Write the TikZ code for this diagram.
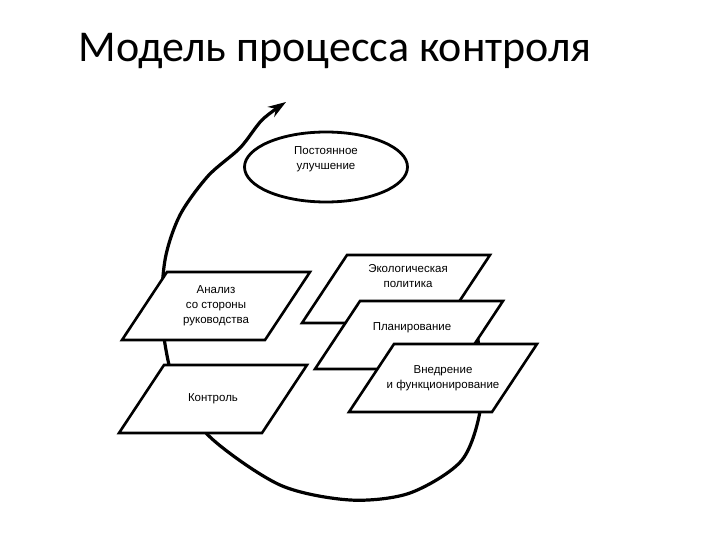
\documentclass[tikz,border=0pt]{standalone}
\usepackage{fontspec}
\newfontfamily\titlefont{Carlito}
\newfontfamily\stagefont{Liberation Sans}
\usetikzlibrary{arrows.meta,shapes.geometric,backgrounds}

\begin{document}
\begin{tikzpicture}[x=1pt,y=-1pt,
    stage/.style={rectangle, minimum width=194pt, minimum height=74pt, inner sep=0pt,
        align=center, font=\stagefont\fontsize{11.5}{15}\selectfont,
        path picture={\filldraw[fill=white, draw=black, line width=2.6pt]
            ([xshift=48pt,yshift=-3pt]path picture bounding box.north west)
            -- ([xshift=-3pt,yshift=-3pt]path picture bounding box.north east)
            -- ([xshift=-48pt,yshift=3pt]path picture bounding box.south east)
            -- ([xshift=3pt,yshift=3pt]path picture bounding box.south west) -- cycle;}},
    stagetext/.style={align=center, font=\stagefont\fontsize{11.5}{15}\selectfont},
    loopline/.style={line width=3.2pt, -{Stealth[length=18pt,width=12pt]}}]
    \useasboundingbox (0,0) rectangle (720,540);
    \node[anchor=base west, font=\titlefont\fontsize{44}{50}\selectfont] (title) at (75,62) {Модель процесса контроля};
    \node[ellipse, draw=black, line width=2.8pt, minimum width=163pt, minimum height=70pt,
        inner sep=0pt, align=center, font=\stagefont\fontsize{11.5}{15}\selectfont] (improve) at (326,167) {Постоянное\\улучшение\\[3pt]};
    \node[stage] (review) at (216,306) {Анализ\\со стороны\\руководства};
    \node[stage] (check) at (213,399) {Контроль};
    \node[stage] (policy) at (396,289) {};
    \node[stagetext] (policytext) at (408,276) {Экологическая\\политика};
    \node[stage] (plan) at (409,335) {};
    \node[stagetext] (plantext) at (412,328) {Планирование};
    \node[stage] (impl) at (443,378) {Внедрение\\и функционирование};
    \coordinate (tip) at (286,102);
    % the cycle runs behind the stages
    \begin{scope}[on background layer]
      \draw[loopline] plot[smooth] coordinates {(policy.center) (466,305) (478,340) (481,405)
        (462,460) (410,493) (350,500) (280,485) (210,437) (175,385) (162,320) (165,260)
        (180,215) (208,176) (240,148) (262,120) (tip)};
    \end{scope}
\end{tikzpicture}
\end{document}
